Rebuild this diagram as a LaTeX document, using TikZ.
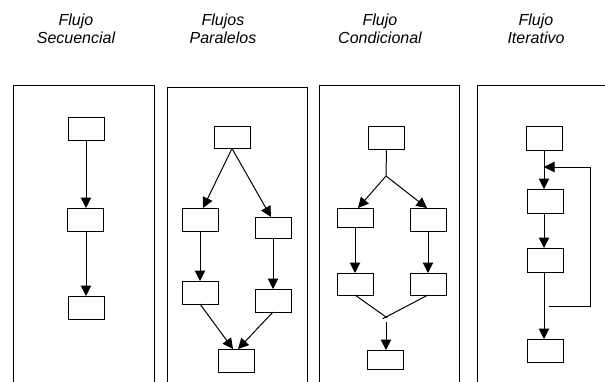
\documentclass[tikz,border=0pt]{standalone}
\usepackage{fontspec}
\setmainfont{Liberation Sans}
\usetikzlibrary{arrows.meta,calc}
\begin{document}
\begin{tikzpicture}[x=1pt,y=-1pt,
  box/.style={draw,line width=1pt,minimum width=36pt,minimum height=23pt,inner sep=0pt,outer sep=0pt},
  title/.style={align=center,inner sep=0pt,font=\fontsize{16}{18}\selectfont\itshape},
  panel/.style={draw,line width=1pt},
  arr/.style={line width=1pt,-{Triangle[length=10.5pt,width=10.5pt]}},
  ln/.style={line width=1pt}]
\useasboundingbox (0,0) rectangle (605,381);
\clip (0,0) rectangle (605,381);
% titles
\node[title] (t1) at (76,28.5) {Flujo\\Secuencial};
\node[title] (t2) at (223,28.5) {Flujos\\Paralelos};
\node[title] (t3) at (380,28.5) {Flujo\\Condicional};
\node[title] (t4) at (536,28.5) {Flujo\\Iterativo};
% panels
\draw[panel] (13,395) -- (13,85) -- (154,85) -- (154,395);
\draw[panel] (167,395) -- (167,87) -- (307,87) -- (307,395);
\draw[panel] (319,395) -- (319,85) -- (459,85) -- (459,395);
\draw[panel] (477,395) -- (477,85) -- (615,85);
% panel 1: sequential
\node[box] (a1) at (86.5,128.5) {};
\node[box] (a2) at (85,219.5) {};
\node[box] (a3) at (86.5,307.5) {};
\draw[arr] (86,140) -- (86,208);
\draw[arr] (86,231) -- (86,296);
% panel 2: parallel
\node[box,minimum height=22pt] (p1) at (232,137.5) {};
\node[box] (p2) at (200,219.5) {};
\node[box,minimum height=21pt] (p3) at (273,227.5) {};
\node[box] (p4) at (200,292.5) {};
\node[box] (p5) at (273,300.5) {};
\node[box] (p6) at (236,360.5) {};
\draw[arr] (p1.south) -- ([xshift=3pt]p2.north);
\draw[arr] (p1.south) -- ([xshift=-2pt]p3.north);
\draw[arr] (p2.south) -- (p2.south |- p4.north);
\draw[arr] (p3.south) -- (p3.south |- p5.north);
\draw[arr] (p4.south) -- ([xshift=-3pt]p6.north);
\draw[arr] (p5.south) -- ([xshift=2pt]p6.north);
% panel 3: conditional
\node[box] (c1) at (386.5,137.5) {};
\coordinate (cf) at (386,176);
\node[box,minimum height=19pt] (c2) at (355,217.5) {};
\node[box] (c3) at (428,219.5) {};
\node[box,minimum height=22pt] (c4) at (355,284) {};
\node[box,minimum height=22pt] (c5) at (428,284) {};
\coordinate (cm) at (386,317);
\coordinate (cs) at (386,322);
\node[box,minimum height=19pt] (c6) at (385,359.5) {};
\draw[ln] (c1.south) -- (cf);
\draw[arr] (cf) -- ([xshift=3pt]c2.north);
\draw[arr] (cf) -- ([xshift=-1pt]c3.north);
\draw[arr] (c2.south) -- (c2.south |- c4.north);
\draw[arr] (c3.south) -- (c3.south |- c5.north);
\draw[ln] (c4.south) -- ($(c4.south)!1.04!(cm)$);
\draw[ln] (c5.south) -- ($(c5.south)!1.08!(cm)$);
\draw[arr] (cs) -- (cs |- c6.north);
% panel 4: iterative
\node[box,minimum height=24pt] (i1) at (544.5,138) {};
\coordinate (ij) at (544,167);
\node[box,minimum height=24pt] (i2) at (545,201) {};
\node[box,minimum height=24pt] (i3) at (545,260) {};
\node[box] (i4) at (545,350.5) {};
\coordinate (ia) at (549,306);
\coordinate (ib) at (590,306);
\coordinate (ic) at (590,167);
\draw[arr] (i1.south -| ij) -- (i2.north -| ij);
\draw[arr] (ia) -- (ib) -- (ic) -- (ij);
\draw[arr] (i2.south -| ij) -- (i3.north -| ij);
\draw[arr] (i3.south -| ij) -- (i4.north -| ij);
\end{tikzpicture}
\end{document}
